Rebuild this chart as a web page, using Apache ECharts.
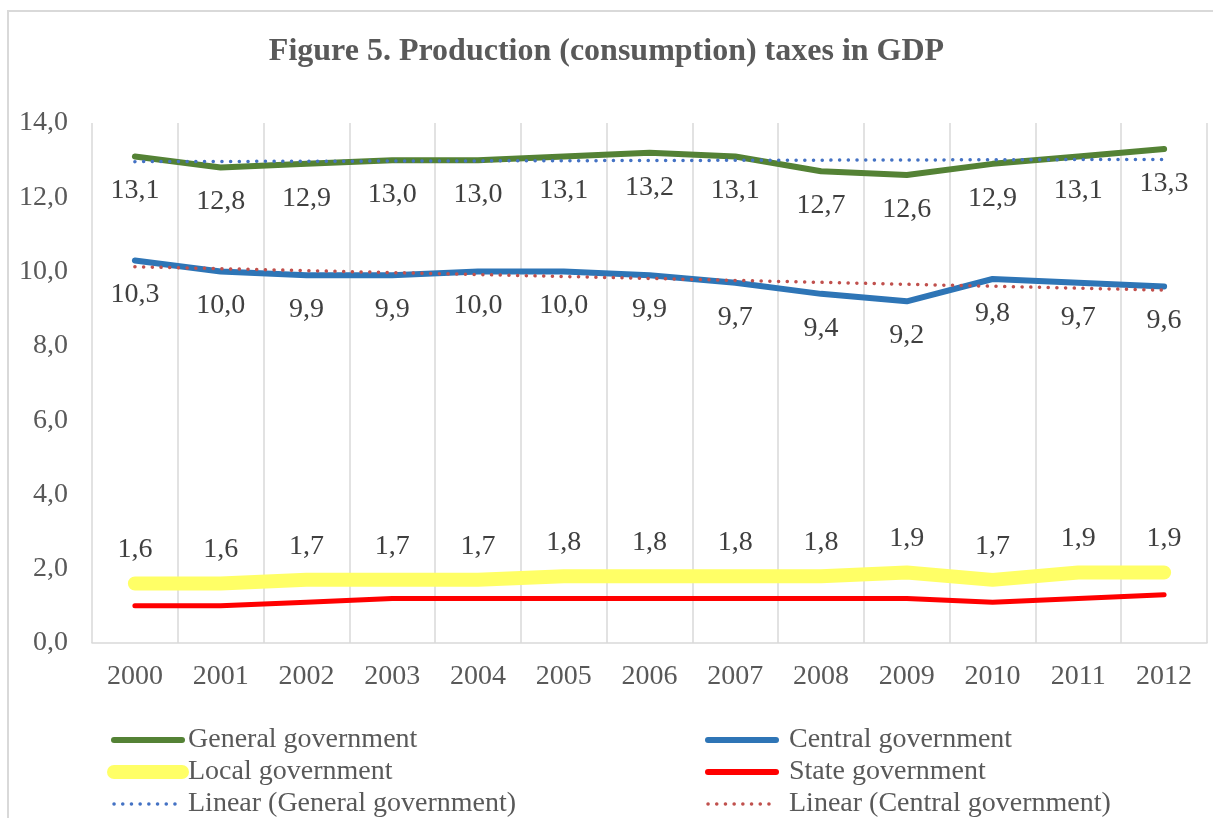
<!DOCTYPE html>
<html><head><meta charset="utf-8">
<script src="https://cdn.jsdelivr.net/npm/echarts@6/dist/echarts.min.js"></script>
<style>html,body{margin:0;padding:0;background:#fff}#c{width:1213px;height:818px}</style>
</head><body><div id="c"></div>
<script>
var years = ['2000','2001','2002','2003','2004','2005','2006','2007','2008','2009','2010','2011','2012'];
var generalGov = [13.1,12.8,12.9,13.0,13.0,13.1,13.2,13.1,12.7,12.6,12.9,13.1,13.3];
var centralGov = [10.3,10.0,9.9,9.9,10.0,10.0,9.9,9.7,9.4,9.2,9.8,9.7,9.6];
var localGov = [1.6,1.6,1.7,1.7,1.7,1.8,1.8,1.8,1.8,1.9,1.7,1.9,1.9];
var stateGov = [1.0,1.0,1.1,1.2,1.2,1.2,1.2,1.2,1.2,1.2,1.1,1.2,1.3];
var trendGeneral = [[0,12.96],[12,13.02]];
var trendCentral = [[0,10.13],[12,9.50]];
var yTicks = {min:0, max:14, interval:2};

var F = '"Liberation Serif","Times New Roman",serif';
var CLEAR = 'rgba(0,0,0,0)';
function fmt(v){ var n = Array.isArray(v)?v[1]:v; return n.toFixed(1).replace('.',','); }
var lbl = function(pos, dist){ return {show:true, position:pos, distance:dist, fontFamily:F, fontSize:28, color:'#404040', formatter:function(p){return fmt(p.value);}}; };
var DOT = [0.1, 8.6];

function legendItem(name, color, width, type){
  return {name:name, itemStyle:{color:CLEAR, borderWidth:0, opacity:0}, lineStyle:{color:color, width:width, type:type||'solid', cap:'round', opacity:1}};
}
function legendBox(left, pad, data){
  return {orient:'vertical', left:left, top:721, height:100, itemWidth:68, itemHeight:14, itemGap:4,
    textStyle:{fontFamily:F, fontSize:28, color:'#595959', padding:[0,0,0,pad]}, data:data};
}

var chart = echarts.init(document.getElementById('c'));
chart.setOption({
  animation:false,
  backgroundColor:'#fff',
  graphic:[{type:'rect', shape:{x:8,y:11,width:1230,height:830}, style:{fill:'none', stroke:'#d9d9d9', lineWidth:2}, silent:true}],
  title:{text:'Figure 5. Production (consumption) taxes in GDP', left:'center', top:31,
    textStyle:{fontFamily:F, fontSize:32, fontWeight:'bold', color:'#595959'}},
  grid:{left:92, right:6, top:123, bottom:175, containLabel:false},
  xAxis:{type:'category', data:years, boundaryGap:true,
    axisLine:{lineStyle:{color:'#d9d9d9', width:1.5}},
    axisTick:{show:false},
    splitLine:{show:true, lineStyle:{color:'#d9d9d9', width:1.5}},
    axisLabel:{fontFamily:F, fontSize:28, color:'#595959', margin:20}},
  yAxis:{type:'value', min:yTicks.min, max:yTicks.max, interval:yTicks.interval,
    axisLine:{show:false}, axisTick:{show:false}, splitLine:{show:false},
    axisLabel:{fontFamily:F, fontSize:28, color:'#595959', margin:24, formatter:function(v){return v.toFixed(1).replace('.',',');}}},
  legend:[
    legendBox(102, 1, [
      legendItem('General government','#548235',6),
      legendItem('Local government','#ffff66',14),
      legendItem('Linear (General government)','#4472c4',3.5,DOT)]),
    legendBox(700, 8, [
      legendItem('Central government','#2e75b6',6),
      legendItem('State government','#ff0000',6),
      legendItem('Linear (Central government)','#c0504d',3.5,DOT)])
  ],
  series:[
    {name:'Local government', type:'line', data:localGov, symbol:'circle', symbolSize:1, showSymbol:true, itemStyle:{color:CLEAR},
     lineStyle:{color:'#ffff66', width:14, cap:'round', join:'round'},
     label:lbl('top',19), z:2},
    {name:'State government', type:'line', data:stateGov, symbol:'none',
     lineStyle:{color:'#ff0000', width:5, cap:'round', join:'round'}, itemStyle:{color:'#ff0000'}, z:2},
    {name:'General government', type:'line', data:generalGov, symbol:'circle', symbolSize:1, showSymbol:true, itemStyle:{color:CLEAR},
     lineStyle:{color:'#548235', width:6, cap:'round', join:'round'},
     label:lbl('bottom',20), z:2},
    {name:'Central government', type:'line', data:centralGov, symbol:'circle', symbolSize:1, showSymbol:true, itemStyle:{color:CLEAR},
     lineStyle:{color:'#2e75b6', width:6, cap:'round', join:'round'},
     label:lbl('bottom',20), z:2},
    {name:'Linear (General government)', type:'line', data:trendGeneral, symbol:'none',
     lineStyle:{color:'#4472c4', width:3.5, type:DOT, cap:'round'}, itemStyle:{color:'#4472c4'}, z:3},
    {name:'Linear (Central government)', type:'line', data:trendCentral, symbol:'none',
     lineStyle:{color:'#c0504d', width:3.5, type:DOT, cap:'round'}, itemStyle:{color:'#c0504d'}, z:3}
  ]
});
</script></body></html>
